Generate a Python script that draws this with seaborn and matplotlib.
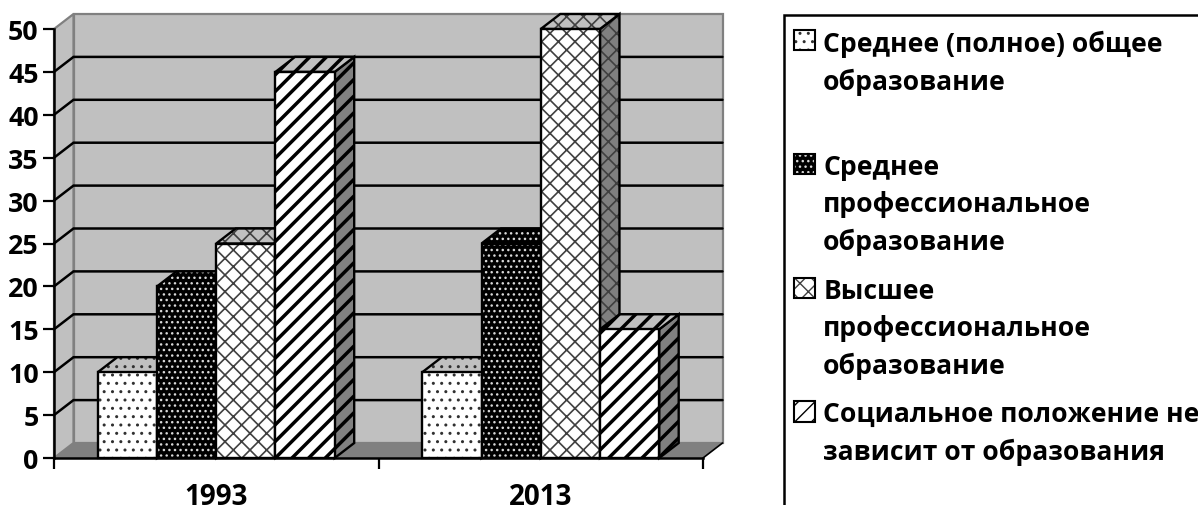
import pandas as pd
import matplotlib
matplotlib.use('Agg')
import matplotlib.pyplot as plt
from matplotlib.legend_handler import HandlerTuple
from matplotlib.patches import Patch, Polygon, Rectangle
import seaborn as sns

# Data
years = ['1993', '2013']
categories = ['Среднее (полное) общее\nобразование\n ',
              'Среднее\nпрофессиональное\nобразование',
              'Высшее\nпрофессиональное\nобразование',
              'Социальное положение не\nзависит от образования']
values_1993 = [10, 20, 25, 45]
values_2013 = [10, 25, 50, 15]
y_ticks = [0, 5, 10, 15, 20, 25, 30, 35, 40, 45, 50]

# Styles for each series: face, hatch colour, hatch, hatch width
faces = ['white', 'black', 'white', 'white']
hatch_colors = ['#303030', '#d8d8d8', '#404040', 'black']
hatches = ['..', '...', 'xx', '//']
hatch_widths = [1.0, 1.0, 1.2, 2.5]

df = pd.DataFrame({
    'year': [y for y in years for _ in categories],
    'category': categories * 2,
    'value': values_1993 + values_2013,
})

sns.set_style('white')
plt.rcParams['font.family'] = ['Open Sans', 'DejaVu Sans']

fig = plt.figure(figsize=(11.98, 5.06), dpi=100)
ax = fig.add_axes([54 / 1198, 47 / 506, 649 / 1198, 429 / 506])

sns.barplot(data=df, x='year', y='value', hue='category', hue_order=categories,
            width=0.73, gap=0, legend=False, ax=ax)
ax.set_xlim(-0.5, 1.5)
ax.set_ylim(0, 50)

# depth of the fake 3D box, in data units
dx = 19.5 / 324.5
dy = 15 / 8.58


def shape(points, face, hatch_color, hatch, hatch_width, z):
    fill = Polygon(points, closed=True, facecolor=face, edgecolor=hatch_color, hatch=hatch,
                   linewidth=0, zorder=z, clip_on=False)
    fill.set_hatch_linewidth(hatch_width)
    ax.add_patch(fill)
    ax.add_patch(Polygon(points, closed=True, fill=False, edgecolor='black', linewidth=1.7,
                         joinstyle='miter', zorder=z + 0.1, clip_on=False))


# Walls and floor
left, right = -0.5, 1.5
ax.add_patch(Polygon([(left + dx, dy), (right + dx, dy), (right + dx, 50 + dy), (left + dx, 50 + dy)],
                     facecolor='#c0c0c0', edgecolor='#808080', linewidth=1.6, zorder=0.5, clip_on=False))
ax.add_patch(Polygon([(left, 0), (left + dx, dy), (left + dx, 50 + dy), (left, 50)],
                     facecolor='#c0c0c0', edgecolor='#808080', linewidth=1.6, zorder=0.5, clip_on=False))
ax.add_patch(Polygon([(left, 0), (right, 0), (right + dx, dy), (left + dx, dy)],
                     facecolor='#808080', edgecolor='none', zorder=0.6, clip_on=False))
ax.plot([right, right + dx], [0, dy], color='black', lw=1.2, zorder=0.7, clip_on=False)

# Grid lines on the back and side wall
for t in y_ticks[1:-1]:
    ax.plot([left, left + dx, right + dx], [t, t + dy, t + dy], color='black', lw=1.8,
            zorder=0.8, clip_on=False, solid_joinstyle='miter')

# Give each bar its side and top faces, left to right
for i, container in enumerate(ax.containers):
    z = 2 + i
    for bar in container.patches:
        x0, x1 = bar.get_x(), bar.get_x() + bar.get_width()
        h = bar.get_height()
        bar.set_visible(False)
        side = '#808080' if faces[i] == 'white' else 'black'
        top = '#c0c0c0' if faces[i] == 'white' else 'black'
        shape([(x1, 0), (x1 + dx, dy), (x1 + dx, h + dy), (x1, h)], side,
              hatch_colors[i], hatches[i], hatch_widths[i], z)
        shape([(x0, h), (x1, h), (x1 + dx, h + dy), (x0 + dx, h + dy)], top,
              hatch_colors[i], hatches[i], hatch_widths[i], z + 0.2)
        shape([(x0, 0), (x1, 0), (x1, h), (x0, h)], faces[i],
              hatch_colors[i], hatches[i], hatch_widths[i], z + 0.4)

# Axes
sns.despine(ax=ax)
for name in ['left', 'bottom']:
    ax.spines[name].set_linewidth(1.8)
    ax.spines[name].set_color('black')
    ax.spines[name].set_zorder(10)
ax.set_xlabel('')
ax.set_ylabel('')
ax.set_yticks(y_ticks)
ax.set_xticks([left, 0.5, right], minor=True)
ax.tick_params(axis='x', which='major', length=0, pad=17)
ax.tick_params(axis='x', which='minor', length=8, width=1.6, color='black', bottom=True)
ax.tick_params(axis='y', length=8, width=1.6, color='black', left=True, pad=3)
for label in ax.get_yticklabels():
    label.set_fontweight('bold')
    label.set_fontsize(19.3)
    label.set_color('black')
for label in ax.get_xticklabels():
    label.set_fontweight('bold')
    label.set_fontsize(20)
    label.set_color('black')

# Legend box runs off the right and bottom of the picture as in the original
fig.add_artist(Rectangle((784 / 1198, -0.1), 0.5, 0.1 + 490 / 506, fill=True,
                         facecolor='white', edgecolor='black', linewidth=1.8,
                         transform=fig.transFigure, zorder=1))
handles = []
for f, c, h, w in zip(faces, hatch_colors, hatches, hatch_widths):
    fill = Patch(facecolor=f, edgecolor=c, hatch=h, linewidth=0)
    fill.set_hatch_linewidth(w)
    handles.append((fill, Patch(fill=False, edgecolor='black', linewidth=1.5)))
leg = fig.legend(handles=handles, labels=categories, loc='upper left',
                 bbox_to_anchor=(794 / 1198, (506 - 31) / 506),
                 handler_map={tuple: HandlerTuple(ndivide=1, pad=0)},
                 prop={'family': ['Open Sans', 'DejaVu Sans'], 'weight': 'bold', 'size': 19.1},
                 frameon=False, borderpad=0, handlelength=0.8, handleheight=0.8,
                 handletextpad=0.3, labelspacing=0.85, borderaxespad=0)
leg.set_zorder(2)
for t in leg.get_texts():
    t.set_linespacing(1.5)
    t.set_color('black')
for row in leg._legend_handle_box.get_children()[0].get_children():
    row.align = 'top'

fig.savefig('out.png', dpi=100)
